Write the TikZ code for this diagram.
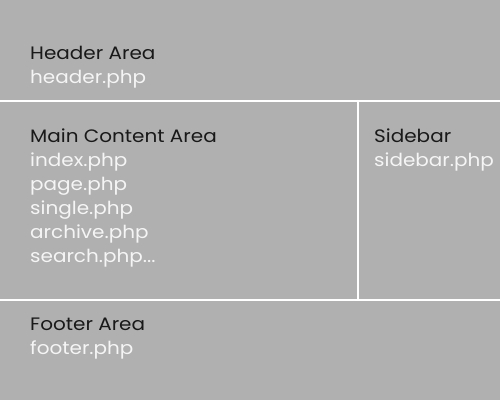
\documentclass[tikz,border=0pt]{standalone}
\usepackage{fontspec}
\setmainfont{Poppins}[FakeStretch=1.11]
\begin{document}
\begin{tikzpicture}[x=1pt,y=-1pt,
  title/.style={anchor=base west,inner sep=0pt,text=black!90,font=\fontsize{18}{24}\selectfont},
  file/.style={anchor=base west,inner sep=0pt,text=white!96!black,font=\fontsize{18}{24}\selectfont},
  divider/.style={draw=white,line width=2pt}]
  % page background
  \fill[black!31] (0,0) rectangle (500,400);
  \useasboundingbox (0,0) rectangle (500,400);
  % region borders
  \coordinate (hl) at (0,101);
  \coordinate (hr) at (500,101);
  \coordinate (fl) at (0,300);
  \coordinate (fr) at (500,300);
  \coordinate (st) at (358,101);
  \coordinate (sb) at (358,300);
  \draw[divider] (hl) -- (hr);
  \draw[divider] (fl) -- (fr);
  \draw[divider] (st) -- (sb);
  % header
  \node[title] (header) at (30,59) {Header Area};
  \node[file] (headerphp) at (30,83) {header.php};
  % main content
  \node[title] (main) at (30,142) {Main Content Area};
  \node[file] (index) at (30,166) {index.php};
  \node[file] (page) at (30,190) {page.php};
  \node[file] (single) at (30,214) {single.php};
  \node[file] (archive) at (30,238) {archive.php};
  \node[file] (search) at (30,262) {search.php...};
  % sidebar
  \node[title] (sidebar) at (374,142) {Sidebar};
  \node[file] (sidebarphp) at (374,166) {sidebar.php};
  % footer
  \node[title] (footer) at (30,330) {Footer Area};
  \node[file] (footerphp) at (30,354) {footer.php};
\end{tikzpicture}
\end{document}
